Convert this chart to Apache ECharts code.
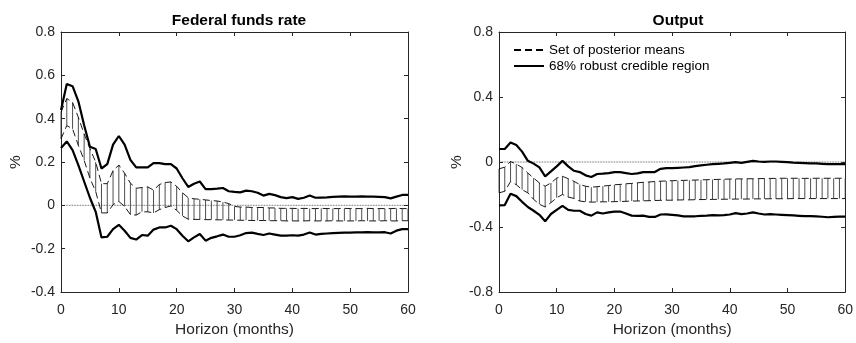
<!DOCTYPE html>
<html>
<head>
<meta charset="utf-8">
<script src="https://cdn.jsdelivr.net/npm/echarts@6/dist/echarts.min.js"></script>
<style>
html,body{margin:0;padding:0;background:#fff;}
#c{width:856px;height:343px;}
</style>
</head>
<body>
<div id="c"></div>
<script>
const horizons = [0,1,2,3,4,5,6,7,8,9,10,11,12,13,14,15,16,17,18,19,20,21,22,23,24,25,26,27,28,29,30,31,32,33,34,35,36,37,38,39,40,41,42,43,44,45,46,47,48,49,50,51,52,53,54,55,56,57,58,59,60];

// Federal funds rate
const ffrUpper = [0.44,0.56,0.55,0.48,0.37,0.27,0.26,0.17,0.19,0.28,
  0.32,0.28,0.21,0.175,0.175,0.175,0.195,0.195,0.19,0.19,
  0.17,0.125,0.085,0.10,0.11,0.075,0.075,0.077,0.08,0.065,
  0.062,0.06,0.068,0.065,0.058,0.045,0.053,0.047,0.038,0.033,
  0.038,0.03,0.035,0.045,0.035,0.036,0.037,0.039,0.04,0.041,
  0.04,0.04,0.041,0.04,0.04,0.039,0.038,0.032,0.04,0.048,0.048];
const ffrLower = [0.265,0.295,0.255,0.186,0.11,0.035,-0.03,-0.148,-0.145,-0.11,
  -0.09,-0.117,-0.15,-0.158,-0.137,-0.14,-0.112,-0.102,-0.102,-0.094,
  -0.11,-0.14,-0.166,-0.148,-0.132,-0.163,-0.15,-0.143,-0.135,-0.145,
  -0.145,-0.138,-0.128,-0.126,-0.132,-0.137,-0.13,-0.135,-0.14,-0.14,
  -0.138,-0.14,-0.135,-0.125,-0.135,-0.132,-0.13,-0.128,-0.127,-0.126,
  -0.126,-0.125,-0.125,-0.124,-0.125,-0.125,-0.124,-0.13,-0.117,-0.11,-0.11];
const ffrSetUpper = [0.43,0.493,0.475,0.406,0.33,0.262,0.2,0.1,0.1,0.16,
  0.186,0.148,0.102,0.079,0.082,0.085,0.07,0.096,0.105,0.108,
  0.088,0.058,0.035,0.03,0.028,0.025,0.022,0.02,0.015,0.008,
  -0.005,-0.008,-0.008,-0.01,-0.01,-0.01,-0.012,-0.012,-0.014,-0.014,
  -0.014,-0.015,-0.014,-0.015,-0.015,-0.014,-0.015,-0.015,-0.015,-0.014,
  -0.015,-0.015,-0.015,-0.014,-0.015,-0.015,-0.015,-0.015,-0.014,-0.015,-0.015];
const ffrSetLower = [0.307,0.368,0.353,0.277,0.208,0.125,0.064,-0.035,-0.035,0.003,
  0.018,-0.005,-0.043,-0.045,-0.03,-0.03,-0.035,-0.02,-0.01,-0.003,
  -0.023,-0.049,-0.064,-0.065,-0.065,-0.066,-0.066,-0.067,-0.067,-0.068,
  -0.068,-0.069,-0.069,-0.07,-0.07,-0.07,-0.071,-0.071,-0.071,-0.072,
  -0.072,-0.072,-0.072,-0.071,-0.072,-0.072,-0.072,-0.071,-0.072,-0.072,
  -0.072,-0.072,-0.071,-0.072,-0.072,-0.072,-0.071,-0.072,-0.072,-0.071,-0.071];

// Output
const outUpper = [0.08,0.08,0.12,0.105,0.064,0.007,-0.01,-0.033,-0.088,-0.058,
  -0.027,0.007,-0.027,-0.054,-0.062,-0.082,-0.092,-0.074,-0.072,-0.068,
  -0.062,-0.062,-0.068,-0.074,-0.07,-0.062,-0.062,-0.062,-0.042,-0.038,
  -0.038,-0.036,-0.034,-0.032,-0.025,-0.021,-0.017,-0.013,-0.011,-0.009,
  -0.005,-0.001,-0.005,0.001,0.007,0.003,0.001,0.003,0.003,0.001,
  -0.001,-0.004,-0.005,-0.007,-0.009,-0.009,-0.011,-0.013,-0.013,-0.013,-0.013];
const outLower = [-0.267,-0.265,-0.196,-0.21,-0.245,-0.277,-0.30,-0.325,-0.365,-0.32,
  -0.295,-0.27,-0.295,-0.30,-0.30,-0.32,-0.33,-0.31,-0.317,-0.31,
  -0.305,-0.305,-0.317,-0.33,-0.332,-0.33,-0.338,-0.338,-0.323,-0.322,
  -0.325,-0.328,-0.335,-0.334,-0.334,-0.332,-0.33,-0.327,-0.329,-0.327,
  -0.323,-0.315,-0.321,-0.317,-0.31,-0.317,-0.323,-0.321,-0.323,-0.325,
  -0.327,-0.329,-0.331,-0.333,-0.333,-0.335,-0.337,-0.34,-0.338,-0.336,-0.336];
const outSetUpper = [-0.042,-0.032,0.003,-0.013,-0.034,-0.068,-0.099,-0.129,-0.149,-0.129,
  -0.099,-0.088,-0.103,-0.119,-0.139,-0.149,-0.155,-0.152,-0.148,-0.145,
  -0.14,-0.138,-0.134,-0.132,-0.128,-0.125,-0.123,-0.12,-0.118,-0.117,
  -0.115,-0.114,-0.113,-0.112,-0.111,-0.11,-0.109,-0.108,-0.107,-0.106,
  -0.105,-0.104,-0.104,-0.103,-0.103,-0.102,-0.102,-0.101,-0.101,-0.1,
  -0.1,-0.1,-0.1,-0.101,-0.1,-0.1,-0.1,-0.1,-0.1,-0.1,-0.1];
const outSetLower = [-0.19,-0.18,-0.12,-0.14,-0.17,-0.19,-0.23,-0.26,-0.277,-0.25,
  -0.22,-0.20,-0.216,-0.224,-0.24,-0.245,-0.247,-0.246,-0.245,-0.245,
  -0.244,-0.243,-0.242,-0.24,-0.24,-0.239,-0.238,-0.237,-0.236,-0.235,
  -0.235,-0.234,-0.233,-0.233,-0.232,-0.231,-0.231,-0.23,-0.23,-0.229,
  -0.229,-0.228,-0.228,-0.228,-0.227,-0.227,-0.227,-0.226,-0.226,-0.226,
  -0.226,-0.225,-0.225,-0.225,-0.225,-0.225,-0.225,-0.225,-0.225,-0.225,-0.225];

const titles = ['Federal funds rate', 'Output'];
const xName = 'Horizon (months)';
const yName = '%';
const legendNames = ['Set of posterior means', '68% robust credible region'];

const FONT = '"Liberation Sans", Arial, Helvetica, sans-serif';
const AX = '#262626';

const chart = echarts.init(document.getElementById('c'), null, {renderer: 'canvas'});

function pairs(ys){ return horizons.map((h,i)=>[h, ys[i]]); }
function ranges(lo, hi){ return horizons.map((h,i)=>[h, lo[i], hi[i]]); }

function xAxes(gi){
  return [
    {gridIndex: gi, type:'value', min:0, max:60, interval:10, position:'bottom',
     name: xName, nameLocation:'middle', nameGap: 30,
     nameTextStyle:{fontFamily:FONT, fontSize:15.5, color:AX},
     axisLine:{onZero:false, lineStyle:{color:AX, width:1}},
     axisTick:{inside:true, length:4, lineStyle:{color:AX}},
     axisLabel:{margin:11, fontFamily:FONT, fontSize:14, color:AX},
     splitLine:{show:false}},
    {gridIndex: gi, type:'value', min:0, max:60, interval:10, position:'top',
     axisLine:{onZero:false, lineStyle:{color:AX, width:1}},
     axisTick:{inside:true, length:4, lineStyle:{color:AX}},
     axisLabel:{show:false}, splitLine:{show:false}}
  ];
}
function yAxes(gi, min, max, interval, gap){
  return [
    {gridIndex: gi, type:'value', min:min, max:max, interval:interval, position:'left',
     name: yName, nameLocation:'middle', nameGap: gap, nameRotate: 90,
     nameTextStyle:{fontFamily:FONT, fontSize:15.5, color:AX},
     axisLine:{show:true, onZero:false, lineStyle:{color:AX, width:1}},
     axisTick:{show:true, inside:true, length:4, lineStyle:{color:AX}},
     axisLabel:{margin:6, fontFamily:FONT, fontSize:14, color:AX,
       formatter: v => String(+v.toFixed(1))},
     splitLine:{show:false}},
    {gridIndex: gi, type:'value', min:min, max:max, interval:interval, position:'right',
     axisLine:{show:true, onZero:false, lineStyle:{color:AX, width:1}},
     axisTick:{show:true, inside:true, length:4, lineStyle:{color:AX}},
     axisLabel:{show:false}, splitLine:{show:false}}
  ];
}

function vertSeries(xi, yi, lo, hi){
  return {
    type:'custom', xAxisIndex: xi, yAxisIndex: yi, silent:true, z:2,
    data: ranges(lo, hi),
    encode:{x:0, y:[1,2]},
    renderItem: function(params, api){
      const p1 = api.coord([api.value(0), api.value(1)]);
      const p2 = api.coord([api.value(0), api.value(2)]);
      return {type:'line', shape:{x1:p1[0], y1:p1[1], x2:p2[0], y2:p2[1]},
        style:{stroke:'#3a3a3a', lineWidth:0.9}};
    }
  };
}
function dashed(name, xi, yi, ys){
  return {name:name, type:'line', xAxisIndex: xi, yAxisIndex: yi, data: pairs(ys),
    symbol:'none', silent:true, z:3,
    itemStyle:{color:'#000'},
    lineStyle:{color:'#000', width:0.9, type:[7,4]}};
}
function solid(name, xi, yi, ys){
  return {name:name, type:'line', xAxisIndex: xi, yAxisIndex: yi, data: pairs(ys),
    symbol:'none', silent:true, z:4,
    itemStyle:{color:'#000'},
    lineStyle:{color:'#000', width:2.2, type:'solid'}};
}
function zeroLine(xi, yi){
  return {name:'zero', type:'line', xAxisIndex: xi, yAxisIndex: yi,
    data: [[horizons[0],0],[horizons[horizons.length-1],0]],
    symbol:'none', silent:true, z:1,
    itemStyle:{color:'#333'},
    lineStyle:{color:'#333', width:0.8, type:'dotted'}};
}

const option = {
  backgroundColor:'#fff',
  animation:false,
  title: [
    {text: titles[0], left: 234, top: 8, textAlign:'center',
     textStyle:{fontFamily:FONT, fontSize:15.5, fontWeight:'bold', color:'#000'}},
    {text: titles[1], left: 673, top: 8, textAlign:'center',
     textStyle:{fontFamily:FONT, fontSize:15.5, fontWeight:'bold', color:'#000'}}
  ],
  grid: [
    {left:61, top:32, width:347, height:263},
    {left:499, top:32, width:348, height:263}
  ],
  xAxis: [].concat(xAxes(0), xAxes(1)),
  yAxis: [].concat(yAxes(0, -0.4, 0.8, 0.2, 37), yAxes(1, -0.8, 0.8, 0.4, 33)),
  legend: {
    data: legendNames, orient:'vertical', left: 513, top: 43, padding: 0,
    itemWidth: 30, itemHeight: 12, itemGap: 2,
    itemStyle:{opacity:0},
    textStyle:{fontFamily:FONT, fontSize:13.5, color:'#000'},
    selectedMode:false
  },
  series: [
    zeroLine(0,0),
    vertSeries(0,0, ffrSetLower, ffrSetUpper),
    dashed('ffr set upper', 0,0, ffrSetUpper),
    dashed('ffr set lower', 0,0, ffrSetLower),
    solid('ffr upper', 0,0, ffrUpper),
    solid('ffr lower', 0,0, ffrLower),
    zeroLine(2,2),
    vertSeries(2,2, outSetLower, outSetUpper),
    dashed(legendNames[0], 2,2, outSetUpper),
    dashed(legendNames[0], 2,2, outSetLower),
    solid(legendNames[1], 2,2, outUpper),
    solid(legendNames[1], 2,2, outLower)
  ]
};
chart.setOption(option);
</script>
</body>
</html>
